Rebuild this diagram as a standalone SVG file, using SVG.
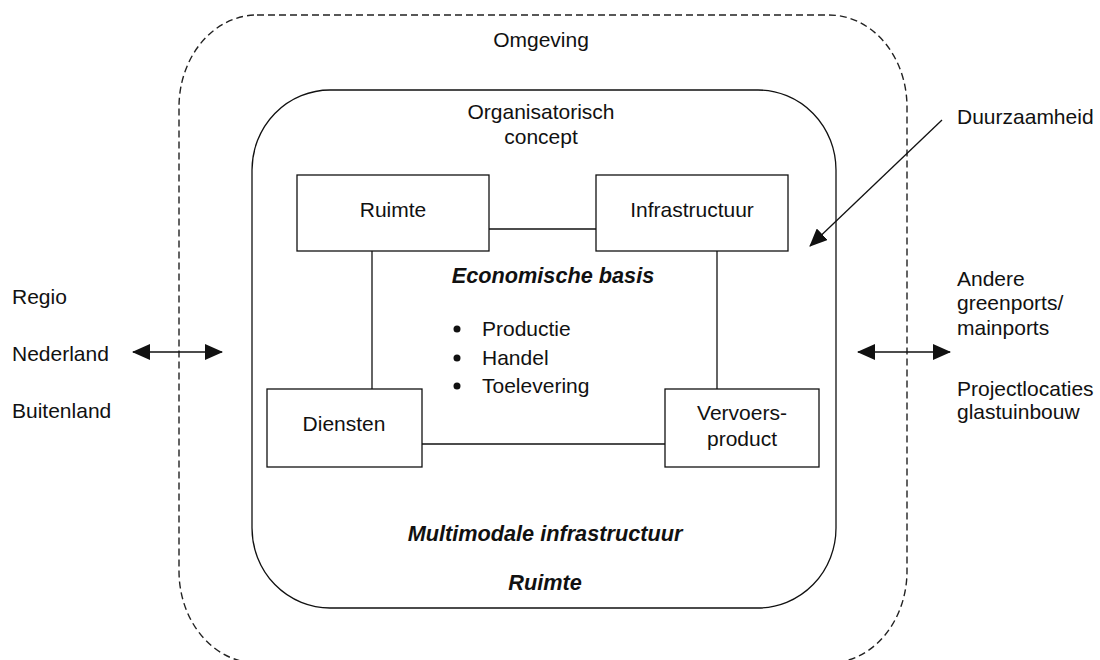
<svg xmlns="http://www.w3.org/2000/svg" width="1100" height="660" viewBox="0 0 1100 660">
<style>
text{font-family:"Liberation Sans",Arial,sans-serif;font-size:21px;fill:#111}
.c{text-anchor:middle}
.bi{font-weight:bold;font-style:italic;font-size:21.7px}
.box{fill:#fff;stroke:#111;stroke-width:1.3}
.ln{stroke:#111;stroke-width:1.3;fill:none}
</style>
<defs>
<marker id="ah" markerUnits="userSpaceOnUse" markerWidth="20" markerHeight="16" refX="17" refY="8" orient="auto-start-reverse" viewBox="0 0 20 16">
<path d="M0,0 L18,8 L0,16 Z" fill="#111"/>
</marker>
</defs>
<rect width="1100" height="660" fill="#fff"/>
<g id="omgeving">
<rect x="179" y="15" width="728" height="648" rx="78" ry="92" fill="none" stroke="#222" stroke-width="1.4" stroke-dasharray="7,4"/>
<text class="c" x="541" y="47">Omgeving</text>
</g>
<g id="organisatorisch-concept">
<rect x="252" y="90" width="584" height="518" rx="78" ry="80" fill="none" stroke="#111" stroke-width="1.3"/>
<text class="c" x="541" y="119">Organisatorisch</text>
<text class="c" x="541" y="144">concept</text>
</g>
<g id="connectors">
<line class="ln" x1="489" y1="229" x2="596" y2="229"/>
<line class="ln" x1="372" y1="251" x2="372" y2="389"/>
<line class="ln" x1="717" y1="251" x2="717" y2="389"/>
<line class="ln" x1="422" y1="444" x2="665" y2="444"/>
<line class="ln" x1="942" y1="120" x2="810" y2="246" marker-end="url(#ah)"/>
<line class="ln" x1="133" y1="352" x2="222" y2="352" marker-start="url(#ah)" marker-end="url(#ah)"/>
<line class="ln" x1="858" y1="352" x2="950" y2="352" marker-start="url(#ah)" marker-end="url(#ah)"/>
</g>
<g id="ruimte">
<rect class="box" x="297" y="175" width="192" height="76"/>
<text class="c" x="393" y="217">Ruimte</text>
</g>
<g id="infrastructuur">
<rect class="box" x="596" y="175" width="192" height="76"/>
<text class="c" x="692" y="217">Infrastructuur</text>
</g>
<g id="diensten">
<rect class="box" x="267" y="389" width="155" height="78"/>
<text class="c" x="344" y="431">Diensten</text>
</g>
<g id="vervoersproduct">
<rect class="box" x="665" y="389" width="154" height="78"/>
<text class="c" x="742" y="420">Vervoers-</text>
<text class="c" x="742" y="446">product</text>
</g>
<g id="economische-basis">
<text class="c bi" x="553" y="283">Economische basis</text>
<circle cx="457" cy="329" r="3.5" fill="#111"/>
<circle cx="457" cy="358" r="3.5" fill="#111"/>
<circle cx="457" cy="386" r="3.5" fill="#111"/>
<text x="482" y="336">Productie</text>
<text x="482" y="365">Handel</text>
<text x="482" y="393">Toelevering</text>
</g>
<g id="labels-inner">
<text class="c bi" x="545" y="541">Multimodale infrastructuur</text>
<text class="c bi" x="545" y="590">Ruimte</text>
</g>
<g id="duurzaamheid">
<text x="957" y="124">Duurzaamheid</text>
</g>
<g id="links">
<text x="12" y="304">Regio</text>
<text x="12" y="361">Nederland</text>
<text x="12" y="418">Buitenland</text>
</g>
<g id="rechts">
<text x="957" y="286">Andere</text>
<text x="957" y="310">greenports/</text>
<text x="957" y="335">mainports</text>
<text x="957" y="396">Projectlocaties</text>
<text x="957" y="419">glastuinbouw</text>
</g>
</svg>
